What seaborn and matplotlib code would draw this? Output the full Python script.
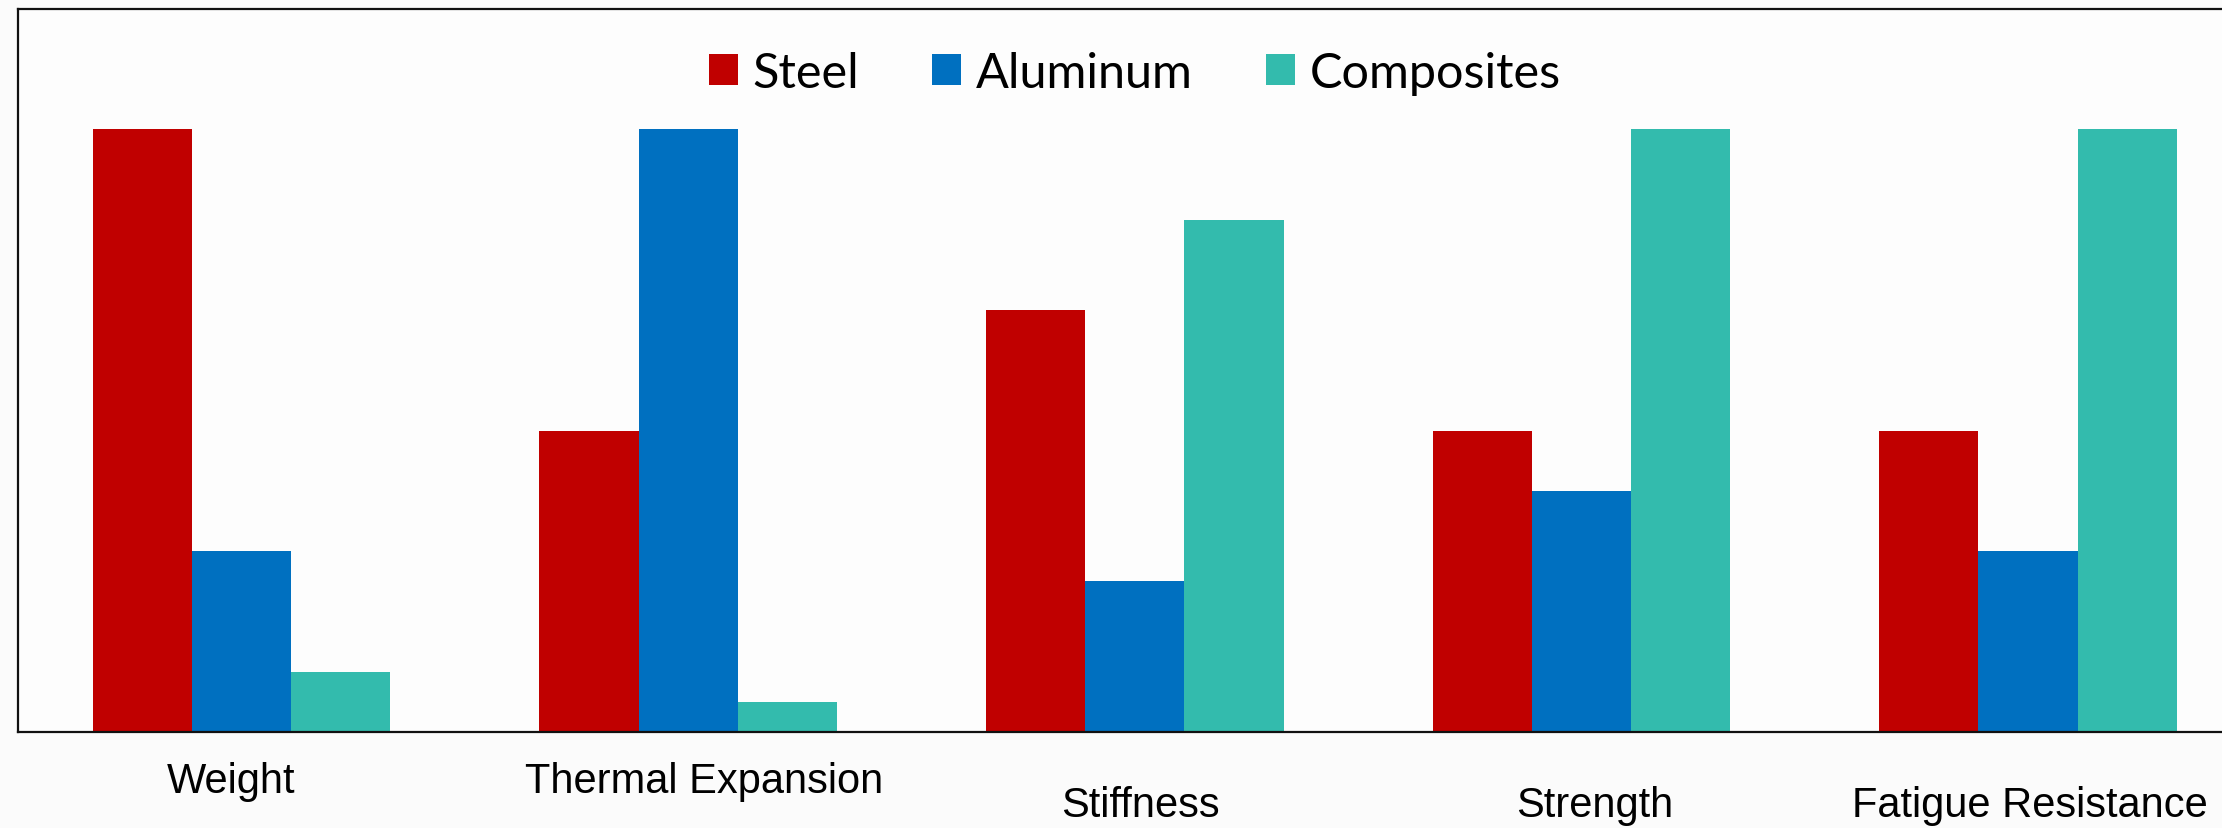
import matplotlib
matplotlib.use("Agg")
import matplotlib.pyplot as plt
import seaborn as sns
import pandas as pd
from matplotlib.patches import Patch

# Relative performance scores (0-100) per property and material
properties = ["Weight", "Thermal Expansion", "Stiffness", "Strength", "Fatigue Resistance"]
materials = ["Steel", "Aluminum", "Composites"]
steel = [100, 50, 70, 50, 50]
aluminum = [30, 100, 25, 40, 30]
composites = [10, 5, 85, 100, 100]
colors = ["#C00000", "#0070C0", "#33BBAD"]

df = pd.DataFrame({
    "Property": properties * 3,
    "Material": [m for m in materials for _ in properties],
    "Score": steel + aluminum + composites,
})

sns.set_theme(style="white")
plt.rcParams["font.family"] = ["Liberation Sans", "DejaVu Sans"]
plt.rcParams["text.color"] = "black"

fig = plt.figure(figsize=(22.22, 8.29), dpi=100, facecolor="#fbfbfb")
ax = fig.add_axes([0.0082, 0.1158, 1.005, 0.8727])
ax.set_facecolor("#fdfdfd")

sns.barplot(data=df, x="Property", y="Score", hue="Material",
            order=properties, hue_order=materials, palette=colors,
            width=2 / 3, saturation=1, linewidth=0, ax=ax, legend=False)

ax.set_xlim(-0.5, 4.5)
ax.set_ylim(0, 120)
ax.set_xlabel("")
ax.set_ylabel("")
ax.set_yticks([])
ax.set_xticks([])

for side in ["left", "top", "bottom", "right"]:
    ax.spines[side].set_visible(True)
    ax.spines[side].set_color("#111111")
    ax.spines[side].set_linewidth(1.6)

# Category labels, alternating between two rows, slightly nudged sideways
label_rows = [-0.083, -0.083, -0.116, -0.116, -0.116]
label_nudge = [-0.024, 0.035, 0.013, 0.03, 0.005]
for i, (name, yrow, dx) in enumerate(zip(properties, label_rows, label_nudge)):
    ax.text(i + dx, yrow, name, transform=ax.get_xaxis_transform(),
            ha="center", va="baseline", fontsize=30, color="black",
            clip_on=False)

handles = [Patch(facecolor=c, edgecolor="none", label=m) for m, c in zip(materials, colors)]
leg = ax.legend(handles=handles, loc="center", bbox_to_anchor=(0.5, 0.9115),
                ncol=3, frameon=False, handlelength=0.6, handleheight=0.6,
                handletextpad=0.3, columnspacing=1.5, labelcolor="black",
                prop={"family": ["Lato", "DejaVu Sans"], "size": 35})

fig.savefig("out.png", dpi=100, facecolor=fig.get_facecolor())
